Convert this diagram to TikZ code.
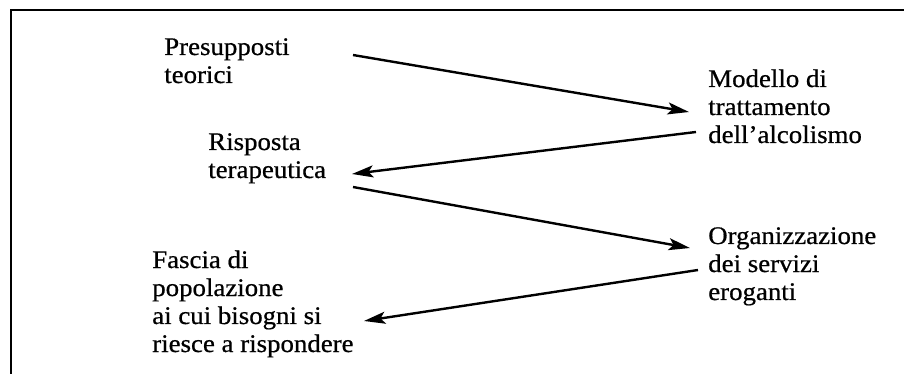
\documentclass[tikz,border=0pt]{standalone}
\usepackage{fontspec}
\setmainfont{Liberation Serif}[FakeStretch=1.06,FakeBold=0.7]
\usetikzlibrary{arrows.meta}
\begin{document}
\begin{tikzpicture}[x=0.75pt,y=-0.75pt,
  label/.style={anchor=base west,inner sep=0pt,align=left,
    font=\fontsize{19}{21}\selectfont},
  arr/.style={line width=1.8pt,-{Stealth[length=16pt,width=9pt,inset=3.5pt]}},
  frame/.style={line width=1.8pt}]
\useasboundingbox (0,0) rectangle (904,374);
% open frame: top edge and left edge only
\draw[frame] (904,10) -- (11,10) -- (11,374);

% labels (placed at the baseline of their last line)
\node[label] (pres) at (164,83) {Presupposti\\teorici};
\node[label] (risp) at (208,178) {Risposta\\terapeutica};
\node[label] (fasc) at (152,352) {Fascia di\\popolazione\\ai cui bisogni si\\riesce a rispondere};
\node[label] (mod)  at (708,143) {Modello di\\trattamento\\dell'alcolismo};
\node[label] (org)  at (708,300) {Organizzazione\\dei servizi\\eroganti};

% connector end points
\coordinate (p1) at (353,55);
\coordinate (m1) at (689,112);
\coordinate (m2) at (696,132);
\coordinate (r1) at (352,174);
\coordinate (r2) at (353,187);
\coordinate (o1) at (690,248);
\coordinate (o2) at (698,270);
\coordinate (f1) at (364,321);

\draw[arr] (p1) -- (m1);
\draw[arr] (m2) -- (r1);
\draw[arr] (r2) -- (o1);
\draw[arr] (o2) -- (f1);
\end{tikzpicture}
\end{document}
